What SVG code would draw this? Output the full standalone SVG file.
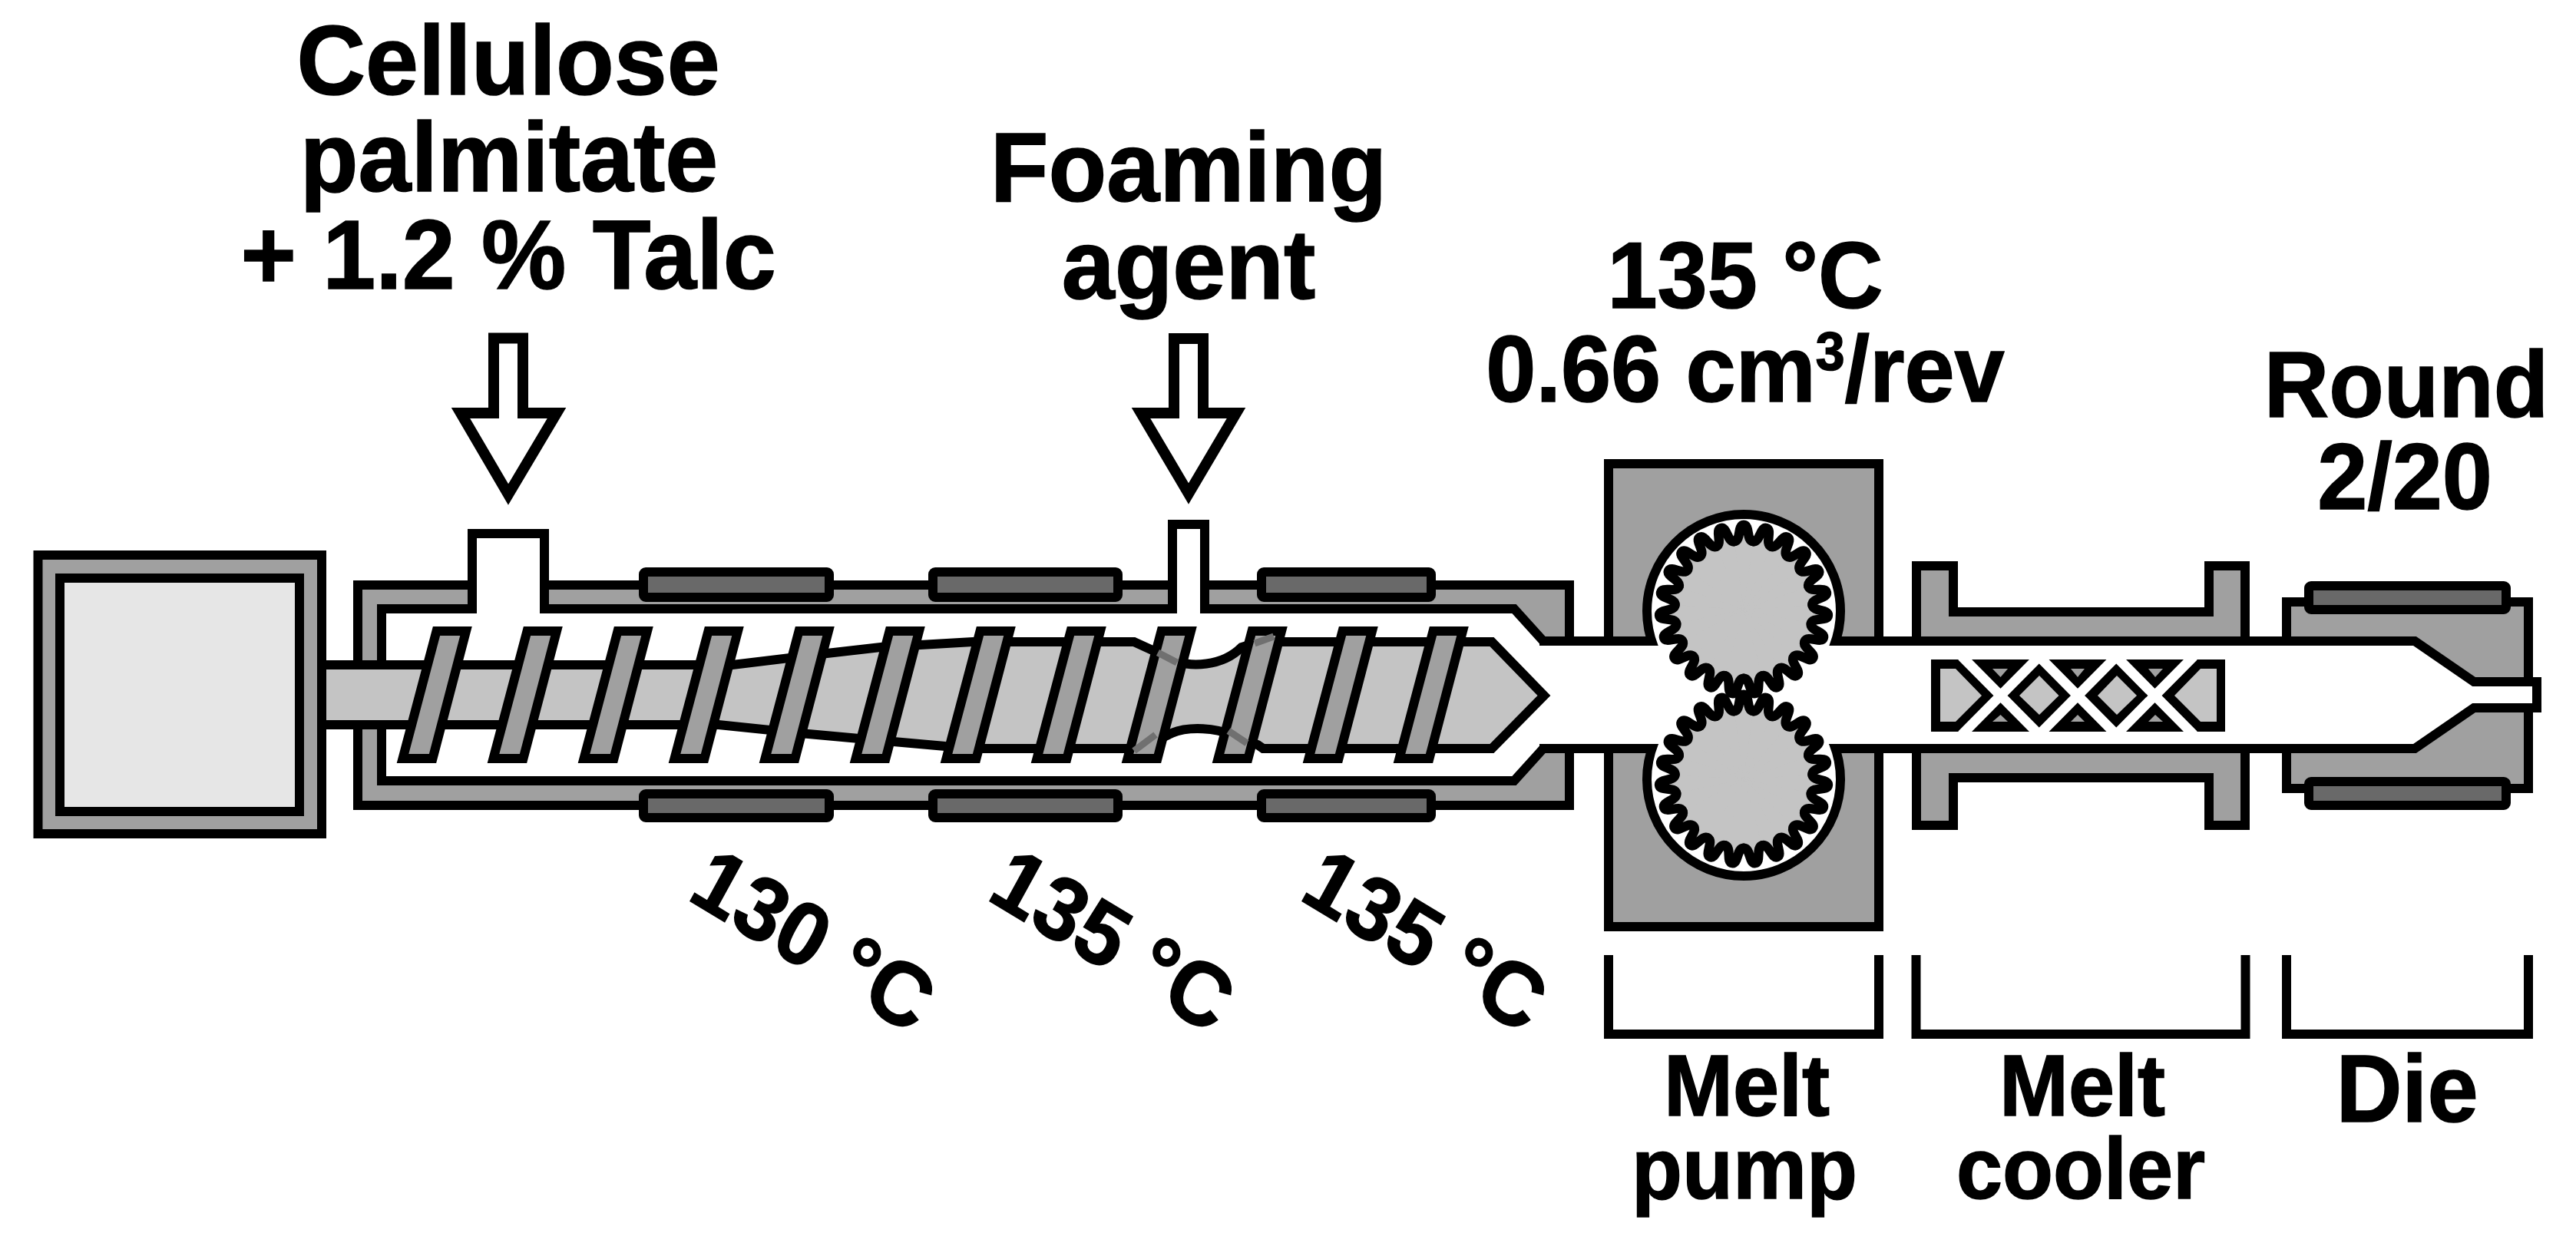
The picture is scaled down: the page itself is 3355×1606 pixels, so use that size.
<svg xmlns="http://www.w3.org/2000/svg" width="3355" height="1606" viewBox="0 0 3355 1606">
<style>
.s{stroke:#000;stroke-width:12;stroke-linejoin:miter;stroke-miterlimit:10}
.g{fill:#a0a0a0}.w{fill:#fff}.l{fill:#c4c4c4}.n{fill:none}
.h{fill:#696969;stroke:#000;stroke-width:12;stroke-linejoin:round}
.arrow{fill:#fff;stroke:#000;stroke-width:14;stroke-miterlimit:10}
.ov{fill:none;stroke:#707070;stroke-width:9}
.x{stroke:#fff;stroke-width:13;fill:none}
text{font-family:"Liberation Sans",Arial,sans-serif;font-weight:bold;fill:#000;stroke:#000;stroke-width:1.5;text-anchor:middle}
.t1{font-size:124px}.t2{font-size:117px}.t3{font-size:108px}.t4{font-size:119px}
.r{font-size:111px;text-anchor:start}
</style>
<defs>
<path id="toothF" class="l" d="M0,0 L-11.85,-86.19 C-3,-87.4 -8,-107 0,-107 C8,-107 3,-87.4 11.85,-86.19 Z"/>
<path id="toothS" fill="none" stroke="#000" stroke-width="12" stroke-linecap="round" d="M-11.85,-86.19 C-3,-87.4 -8,-107 0,-107 C8,-107 3,-87.4 11.85,-86.19"/>
<g id="gearF">
<use href="#toothF"/><use href="#toothF" transform="rotate(15.652)"/><use href="#toothF" transform="rotate(31.304)"/><use href="#toothF" transform="rotate(46.957)"/><use href="#toothF" transform="rotate(62.609)"/><use href="#toothF" transform="rotate(78.261)"/><use href="#toothF" transform="rotate(93.913)"/><use href="#toothF" transform="rotate(109.565)"/><use href="#toothF" transform="rotate(125.217)"/><use href="#toothF" transform="rotate(140.87)"/><use href="#toothF" transform="rotate(156.522)"/><use href="#toothF" transform="rotate(172.174)"/><use href="#toothF" transform="rotate(187.826)"/><use href="#toothF" transform="rotate(203.478)"/><use href="#toothF" transform="rotate(219.13)"/><use href="#toothF" transform="rotate(234.783)"/><use href="#toothF" transform="rotate(250.435)"/><use href="#toothF" transform="rotate(266.087)"/><use href="#toothF" transform="rotate(281.739)"/><use href="#toothF" transform="rotate(297.391)"/><use href="#toothF" transform="rotate(313.043)"/><use href="#toothF" transform="rotate(328.696)"/><use href="#toothF" transform="rotate(344.348)"/>
</g>
<g id="gearS">
<use href="#toothS"/><use href="#toothS" transform="rotate(15.652)"/><use href="#toothS" transform="rotate(31.304)"/><use href="#toothS" transform="rotate(46.957)"/><use href="#toothS" transform="rotate(62.609)"/><use href="#toothS" transform="rotate(78.261)"/><use href="#toothS" transform="rotate(93.913)"/><use href="#toothS" transform="rotate(109.565)"/><use href="#toothS" transform="rotate(125.217)"/><use href="#toothS" transform="rotate(140.87)"/><use href="#toothS" transform="rotate(156.522)"/><use href="#toothS" transform="rotate(172.174)"/><use href="#toothS" transform="rotate(187.826)"/><use href="#toothS" transform="rotate(203.478)"/><use href="#toothS" transform="rotate(219.13)"/><use href="#toothS" transform="rotate(234.783)"/><use href="#toothS" transform="rotate(250.435)"/><use href="#toothS" transform="rotate(266.087)"/><use href="#toothS" transform="rotate(281.739)"/><use href="#toothS" transform="rotate(297.391)"/><use href="#toothS" transform="rotate(313.043)"/><use href="#toothS" transform="rotate(328.696)"/><use href="#toothS" transform="rotate(344.348)"/>
</g>
<g id="gear"><circle class="l" r="90"/><use href="#gearF"/><use href="#gearS"/></g>
<polygon id="flight" class="s" style="fill:#a0a0a0" points="568.5,822 607,822 563.5,988 524.5,988"/>
</defs>
<rect width="3355" height="1606" fill="#fff"/>

<g id="barrel">
<path class="s g" d="M466,762 H615 V695 H709 V762 H1527 V683 H1569 V762 H2044 V1049 H466 Z"/>
<path class="s w" d="M2010,835 L1972,793 H1569 V683 H1527 V793 H709 V695 H615 V793 H497 V1017 H1972 L2010,975"/>
<rect class="h" x="838" y="745" width="242" height="33" rx="3"/>
<rect class="h" x="1215" y="745" width="241" height="33" rx="3"/>
<rect class="h" x="1643" y="745" width="221" height="33" rx="3"/>
<rect class="h" x="838" y="1034" width="242" height="31" rx="3"/>
<rect class="h" x="1215" y="1034" width="241" height="31" rx="3"/>
<rect class="h" x="1643" y="1034" width="221" height="31" rx="3"/>
</g>

<g id="melt-pump">
<rect class="s g" x="2095" y="604" width="352" height="603"/>
<circle class="s w" cx="2271" cy="796" r="126"/>
<circle class="s w" cx="2271" cy="1015" r="126"/>
</g>

<g id="melt-cooler">
<path class="s g" d="M2496,850 V737 H2544 V797 H2877 V737 H2924 V850 Z"/>
<path class="s g" d="M2496,960 V1075 H2544 V1013 H2877 V1075 H2924 V960 Z"/>
</g>

<g id="die">
<rect class="s g" x="2978" y="784" width="315" height="243"/>
<rect class="h" x="3007" y="763" width="257" height="31" rx="3"/>
<rect class="h" x="3007" y="1018" width="257" height="31" rx="3"/>
</g>

<g id="channel">
<rect class="w" x="2000" y="841" width="400" height="128"/>
<path class="s n" d="M2005,835 H2155 M2005,975 H2155"/>
<path class="s w" d="M2387,835 H3145 L3222,888 H3304 V922 H3222 L3145,975 H2387"/>
</g>

<g id="screw">
<path class="s l" d="M400,866 H954 L1077,851 L1147,843 L1267,836 H1477 L1501,847 L1533,862 C1550,867 1590,870 1617,843 L1640,836 H1943 L2011,906 L1943,975 H1645 L1638,970 L1603,957 C1585,949 1550,945 1526,955 L1484,975 H1281 L1231,972 L1119,962 L1042,955 L936,944 H400 Z"/>
<use href="#flight"/>
<use href="#flight" x="118"/>
<use href="#flight" x="236"/>
<use href="#flight" x="354"/>
<use href="#flight" x="472"/>
<use href="#flight" x="590"/>
<use href="#flight" x="708"/>
<use href="#flight" x="826"/>
<use href="#flight" x="944"/>
<use href="#flight" x="1062"/>
<use href="#flight" x="1180"/>
<use href="#flight" x="1298"/>
<path class="ov" d="M1508,850 L1533,863 M1477,978 L1505,957 M1634,838 L1659,829 M1600,952 L1624,968"/>
</g>

<g id="motor">
<rect class="s g" x="49.5" y="723" width="369.5" height="363"/>
<rect class="s" style="fill:#e6e6e6" x="78" y="753" width="312" height="304"/>
</g>

<g id="feed-arrow">
<path class="arrow" d="M643,440.5 H681 V538 H725 L662,644 L600,538 H643 Z"/>
</g>
<g id="foam-arrow">
<path class="arrow" d="M1529,441 H1567 V538 H1610 L1548,643 L1486,538 H1529 Z"/>
</g>

<g id="gears">
<use href="#gear" transform="translate(2271,794) scale(1.03)"/>
<use href="#gear" transform="translate(2271,1015) scale(1.03)"/>
</g>

<g id="mixer">
<rect x="2515" y="859" width="383" height="94" fill="#000"/>
<g class="l">
<polygon points="2527,871 2547,871 2581,906 2547,940 2527,940"/>
<polygon points="2656,880 2681.5,906 2656,931 2630,906"/>
<polygon points="2757,880 2783,906 2757,931 2732,906"/>
<polygon points="2887,871 2866,871 2832,906 2866,940 2887,940"/>
</g>
<g class="g">
<polygon points="2595,871 2615,871 2605.5,882"/>
<polygon points="2697,871 2715,871 2706,882"/>
<polygon points="2798,871 2817,871 2807,882"/>
<polygon points="2605.5,931 2595,940 2615,940"/>
<polygon points="2706,931 2697,940 2715,940"/>
<polygon points="2807,931 2798,940 2817,940"/>
</g>
<path class="x" d="M2555,855 L2656,957 M2656,855 L2555,957 M2655.5,855 L2756.5,957 M2756.5,855 L2655.5,957 M2756,855 L2857,957 M2857,855 L2756,957"/>
</g>

<g id="brackets">
<path class="s n" d="M2095,1244 V1347 H2447 V1244"/>
<path class="s n" d="M2495.5,1244 V1347 H2924.5 V1244"/>
<path class="s n" d="M2978,1244 V1347 H3293 V1244"/>
</g>

<g id="labels">
<text class="t1" transform="translate(662,123) scale(1,1.03)">Cellulose</text>
<text class="t1" transform="translate(663,249) scale(1,1.03)">palmitate</text>
<text class="t1" transform="translate(662,376) scale(1,1.03)">+ 1.2 % Talc</text>
<text class="t1" transform="translate(1548,262) scale(1,1.03)">Foaming</text>
<text class="t1" transform="translate(1548,389) scale(1,1.03)">agent</text>
<text class="t2" transform="translate(2273,401) scale(1,1.04)">135 °C</text>
<text class="t2" transform="translate(2273,523) scale(1,1.04)">0.66 cm<tspan font-size="68" dy="-39">3</tspan><tspan dy="39">/rev</tspan></text>
<text class="t2" transform="translate(3134,543) scale(1,1.04)">Round</text>
<text class="t2" transform="translate(3132,663) scale(1,1.04)">2/20</text>
<text class="t3" transform="translate(2275,1453) scale(1,1.04)">Melt</text>
<text class="t3" transform="translate(2272,1561) scale(1,1.04)">pump</text>
<text class="t3" transform="translate(2712,1453) scale(1,1.04)">Melt</text>
<text class="t3" transform="translate(2710,1561) scale(1,1.04)">cooler</text>
<text class="t4" transform="translate(3135,1461) scale(1,1.04)">Die</text>
<text class="r" transform="translate(893,1170) scale(1,1.05) rotate(30)">130 °C</text>
<text class="r" transform="translate(1283,1170) scale(1,1.05) rotate(30)">135 °C</text>
<text class="r" transform="translate(1690,1170) scale(1,1.05) rotate(30)">135 °C</text>
</g>
</svg>
